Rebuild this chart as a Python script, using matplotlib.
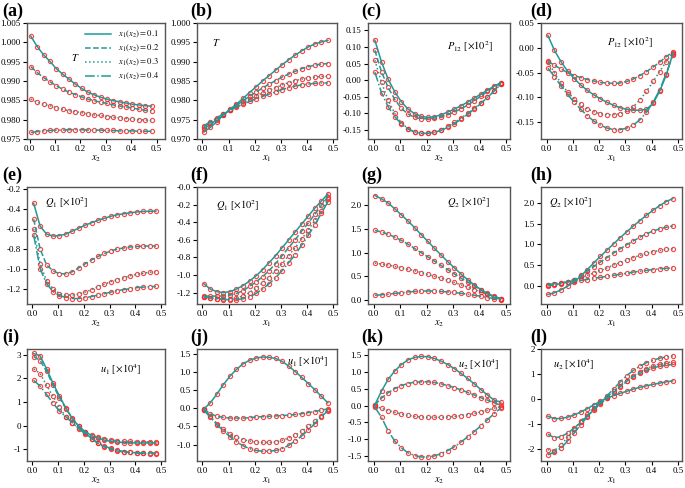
import numpy as np
import matplotlib
matplotlib.use("Agg")
import matplotlib.pyplot as plt

plt.rcParams['font.family'] = ['Liberation Serif', 'DejaVu Serif']
plt.rcParams['mathtext.fontset'] = 'stix'

# sampling points along x1 or x2
x_pts = [0.005, 0.03, 0.055, 0.08, 0.105, 0.13, 0.155, 0.18, 0.205, 0.23,
         0.255, 0.28, 0.305, 0.33, 0.355, 0.38, 0.405, 0.43, 0.455, 0.48]

legend_labels = [r"$x_1(x_2)=0.1$", r"$x_1(x_2)=0.2$", r"$x_1(x_2)=0.3$", r"$x_1(x_2)=0.4$"]

# (a) T vs x2
a_T = [
    [1.0016, 0.9989, 0.9968, 0.9951, 0.9932, 0.9918, 0.9905, 0.9892, 0.9881, 0.9871,
     0.9864, 0.9858, 0.9853, 0.9849, 0.9846, 0.9843, 0.9840, 0.9838, 0.9836, 0.9835],
    [0.9937, 0.9922, 0.9909, 0.9898, 0.9888, 0.9879, 0.9871, 0.9865, 0.9859, 0.9853,
     0.9849, 0.9845, 0.9842, 0.9838, 0.9835, 0.9833, 0.9830, 0.9827, 0.9824, 0.9823],
    [0.9853, 0.9845, 0.9840, 0.9836, 0.9831, 0.9827, 0.9823, 0.9821, 0.9818, 0.9815,
     0.9812, 0.9811, 0.9808, 0.9806, 0.9805, 0.9803, 0.9801, 0.9800, 0.9799, 0.9798],
    [0.9767, 0.9769, 0.9771, 0.9772, 0.9773, 0.9773, 0.9774, 0.9774, 0.9774, 0.9773,
     0.9773, 0.9773, 0.9772, 0.9772, 0.9771, 0.9771, 0.9771, 0.9770, 0.9770, 0.9770],
]
# (b) T vs x1
b_T = [
    [0.9718, 0.9730, 0.9745, 0.9762, 0.9777, 0.9790, 0.9805, 0.9820, 0.9835, 0.9850,
     0.9864, 0.9878, 0.9892, 0.9905, 0.9917, 0.9928, 0.9938, 0.9946, 0.9951, 0.9955],
    [0.9727, 0.9738, 0.9750, 0.9762, 0.9775, 0.9787, 0.9799, 0.9810, 0.9821, 0.9832,
     0.9842, 0.9851, 0.9860, 0.9868, 0.9875, 0.9882, 0.9887, 0.9891, 0.9894, 0.9895],
    [0.9731, 0.9742, 0.9753, 0.9764, 0.9775, 0.9785, 0.9794, 0.9803, 0.9811, 0.9819,
     0.9826, 0.9833, 0.9840, 0.9846, 0.9851, 0.9855, 0.9858, 0.9860, 0.9862, 0.9862],
    [0.9734, 0.9745, 0.9755, 0.9765, 0.9774, 0.9782, 0.9790, 0.9797, 0.9804, 0.9810,
     0.9816, 0.9822, 0.9828, 0.9833, 0.9837, 0.9840, 0.9842, 0.9844, 0.9845, 0.9845],
]
# (c) P12 vs x2
c_P12 = [
    [0.120, 0.055, 0.003, -0.035, -0.065, -0.087, -0.101, -0.109, -0.112, -0.110,
     -0.104, -0.096, -0.087, -0.077, -0.066, -0.054, -0.042, -0.030, -0.018, -0.008],
    [0.090, 0.025, -0.022, -0.058, -0.085, -0.102, -0.112, -0.116, -0.116, -0.114,
     -0.110, -0.104, -0.096, -0.086, -0.075, -0.062, -0.048, -0.034, -0.020, -0.008],
    [0.060, -0.007, -0.060, -0.100, -0.128, -0.146, -0.156, -0.160, -0.160, -0.156,
     -0.149, -0.139, -0.127, -0.114, -0.100, -0.085, -0.069, -0.052, -0.034, -0.012],
    [0.024, -0.038, -0.080, -0.110, -0.132, -0.147, -0.156, -0.160, -0.160, -0.157,
     -0.151, -0.142, -0.131, -0.118, -0.103, -0.087, -0.070, -0.052, -0.033, -0.011],
]
# (d) P12 vs x1
d_P12 = [
    [0.025, -0.005, -0.028, -0.047, -0.062, -0.075, -0.086, -0.095, -0.103, -0.110,
     -0.116, -0.121, -0.124, -0.126, -0.126, -0.124, -0.112, -0.088, -0.055, -0.012],
    [-0.027, -0.035, -0.043, -0.050, -0.056, -0.060, -0.064, -0.067, -0.070, -0.071,
     -0.072, -0.071, -0.068, -0.063, -0.056, -0.048, -0.039, -0.029, -0.018, -0.008],
    [-0.028, -0.050, -0.072, -0.089, -0.103, -0.114, -0.123, -0.129, -0.133, -0.135,
     -0.135, -0.133, -0.128, -0.119, -0.105, -0.088, -0.068, -0.048, -0.028, -0.010],
    [-0.041, -0.058, -0.077, -0.094, -0.110, -0.124, -0.137, -0.148, -0.156, -0.162,
     -0.165, -0.165, -0.162, -0.156, -0.145, -0.130, -0.110, -0.085, -0.052, -0.015],
]
# (e) Q1 vs x2
e_Q1 = [
    [-0.34, -0.57, -0.65, -0.67, -0.665, -0.65, -0.62, -0.59, -0.56, -0.535,
     -0.51, -0.49, -0.47, -0.455, -0.445, -0.435, -0.427, -0.422, -0.42, -0.418],
    [-0.50, -0.80, -0.96, -1.02, -1.05, -1.05, -1.03, -0.99, -0.95, -0.91,
     -0.875, -0.845, -0.82, -0.80, -0.79, -0.78, -0.775, -0.772, -0.77, -0.77],
    [-0.60, -0.95, -1.12, -1.20, -1.25, -1.265, -1.265, -1.255, -1.235, -1.21,
     -1.18, -1.155, -1.13, -1.11, -1.09, -1.07, -1.055, -1.045, -1.035, -1.03],
    [-0.66, -1.00, -1.15, -1.23, -1.27, -1.29, -1.30, -1.30, -1.29, -1.28,
     -1.265, -1.25, -1.235, -1.22, -1.21, -1.20, -1.19, -1.185, -1.18, -1.178],
]
# (f) Q1 vs x1
f_Q1 = [
    [-1.10, -1.16, -1.19, -1.20, -1.19, -1.16, -1.12, -1.07, -1.01, -0.94,
     -0.86, -0.78, -0.69, -0.60, -0.51, -0.42, -0.33, -0.24, -0.16, -0.08],
    [-1.24, -1.24, -1.24, -1.24, -1.23, -1.21, -1.18, -1.13, -1.08, -1.02,
     -0.95, -0.87, -0.78, -0.69, -0.60, -0.50, -0.41, -0.31, -0.21, -0.11],
    [-1.25, -1.26, -1.27, -1.27, -1.27, -1.26, -1.24, -1.20, -1.15, -1.09,
     -1.03, -0.95, -0.87, -0.78, -0.69, -0.59, -0.49, -0.38, -0.27, -0.14],
    [-1.25, -1.26, -1.27, -1.28, -1.28, -1.28, -1.27, -1.25, -1.21, -1.16,
     -1.10, -1.03, -0.95, -0.86, -0.77, -0.66, -0.55, -0.43, -0.30, -0.17],
]
# (g) Q2 vs x2
g_Q2 = [
    [2.21, 2.14, 2.05, 1.93, 1.80, 1.67, 1.53, 1.38, 1.24, 1.09,
     0.95, 0.81, 0.68, 0.55, 0.43, 0.32, 0.22, 0.13, 0.06, 0.02],
    [1.47, 1.44, 1.39, 1.33, 1.26, 1.18, 1.09, 1.00, 0.91, 0.82,
     0.73, 0.64, 0.55, 0.46, 0.38, 0.30, 0.22, 0.14, 0.08, 0.03],
    [0.78, 0.76, 0.74, 0.71, 0.68, 0.65, 0.62, 0.58, 0.54, 0.50,
     0.46, 0.42, 0.37, 0.32, 0.27, 0.22, 0.17, 0.12, 0.07, 0.03],
    [0.10, 0.11, 0.12, 0.14, 0.15, 0.17, 0.18, 0.19, 0.19, 0.19,
     0.18, 0.17, 0.16, 0.14, 0.12, 0.10, 0.08, 0.05, 0.03, 0.01],
]
# (h) Q2 vs x1
h_Q2 = [
    [-0.21, -0.17, -0.10, -0.01, 0.09, 0.23, 0.39, 0.55, 0.71, 0.86,
     1.01, 1.16, 1.30, 1.44, 1.57, 1.70, 1.82, 1.93, 2.03, 2.10],
    [0.00, 0.02, 0.05, 0.09, 0.15, 0.25, 0.35, 0.46, 0.57, 0.68,
     0.79, 0.89, 0.99, 1.08, 1.17, 1.25, 1.32, 1.37, 1.41, 1.44],
    [0.02, 0.04, 0.07, 0.10, 0.14, 0.19, 0.25, 0.31, 0.37, 0.43,
     0.50, 0.56, 0.62, 0.68, 0.73, 0.78, 0.82, 0.85, 0.88, 0.89],
    [0.03, 0.05, 0.07, 0.09, 0.11, 0.13, 0.15, 0.18, 0.20, 0.23,
     0.25, 0.28, 0.30, 0.33, 0.35, 0.37, 0.39, 0.41, 0.42, 0.43],
]
# (i) u1 vs x2
i_u1 = [
    [3.05, 2.95, 2.40, 1.80, 1.25, 0.75, 0.30, -0.02, -0.25, -0.42,
     -0.53, -0.61, -0.66, -0.69, -0.71, -0.72, -0.73, -0.73, -0.73, -0.73],
    [2.92, 2.75, 2.30, 1.72, 1.18, 0.72, 0.32, 0.00, -0.30, -0.55,
     -0.75, -0.90, -1.00, -1.07, -1.11, -1.13, -1.14, -1.15, -1.15, -1.15],
    [2.40, 2.20, 1.70, 1.25, 0.78, 0.38, 0.10, -0.10, -0.28, -0.40,
     -0.48, -0.55, -0.60, -0.63, -0.65, -0.66, -0.67, -0.68, -0.68, -0.68],
    [1.92, 1.67, 1.32, 0.95, 0.62, 0.38, 0.12, -0.12, -0.35, -0.55,
     -0.72, -0.86, -0.96, -1.04, -1.09, -1.13, -1.16, -1.17, -1.18, -1.18],
]
# (j) u1 vs x1
j_u1 = [
    [-0.02, 0.15, 0.39, 0.65, 0.88, 1.07, 1.22, 1.32, 1.38, 1.41,
     1.40, 1.37, 1.29, 1.16, 1.01, 0.85, 0.68, 0.51, 0.33, 0.15],
    [-0.03, -0.15, -0.22, -0.25, -0.27, -0.27, -0.27, -0.26, -0.24, -0.23,
     -0.22, -0.21, -0.20, -0.19, -0.17, -0.15, -0.12, -0.09, -0.05, -0.02],
    [-0.04, -0.22, -0.42, -0.58, -0.70, -0.79, -0.86, -0.90, -0.93, -0.94,
     -0.94, -0.93, -0.88, -0.82, -0.74, -0.63, -0.50, -0.36, -0.20, -0.05],
    [-0.05, -0.25, -0.45, -0.62, -0.78, -0.92, -1.03, -1.11, -1.16, -1.18,
     -1.18, -1.16, -1.11, -1.02, -0.90, -0.76, -0.60, -0.42, -0.23, -0.07],
]
# (k) u2 vs x2
k_u2 = [
    [0.02, 0.43, 0.77, 1.02, 1.21, 1.35, 1.42, 1.45, 1.44, 1.39,
     1.31, 1.21, 1.09, 0.95, 0.80, 0.64, 0.47, 0.31, 0.16, 0.10],
    [0.02, 0.22, 0.38, 0.50, 0.59, 0.65, 0.69, 0.70, 0.70, 0.68,
     0.64, 0.59, 0.53, 0.46, 0.39, 0.31, 0.23, 0.16, 0.08, 0.01],
    [-0.02, -0.08, -0.15, -0.20, -0.25, -0.29, -0.32, -0.34, -0.35, -0.35,
     -0.35, -0.34, -0.32, -0.30, -0.27, -0.23, -0.19, -0.14, -0.08, -0.03],
    [-0.05, -0.35, -0.75, -1.05, -1.25, -1.40, -1.48, -1.52, -1.52, -1.49,
     -1.42, -1.33, -1.22, -1.08, -0.93, -0.77, -0.60, -0.42, -0.24, -0.08],
]
# (l) u2 vs x1
l_u2 = [
    [-0.70, -0.80, -0.79, -0.74, -0.65, -0.53, -0.40, -0.24, -0.10, 0.02,
     0.13, 0.22, 0.30, 0.39, 0.46, 0.52, 0.58, 0.63, 0.68, 0.72],
    [-1.42, -1.57, -1.52, -1.38, -1.18, -0.95, -0.70, -0.45, -0.20, 0.02,
     0.25, 0.48, 0.70, 0.88, 1.02, 1.14, 1.24, 1.31, 1.35, 1.38],
    [-2.05, -2.08, -1.85, -1.55, -1.22, -0.90, -0.62, -0.36, -0.13, 0.08,
     0.30, 0.52, 0.73, 0.92, 1.08, 1.21, 1.32, 1.40, 1.45, 1.48],
    [-2.25, -2.15, -1.98, -1.70, -1.38, -1.04, -0.72, -0.42, -0.15, 0.12,
     0.40, 0.68, 0.93, 1.14, 1.31, 1.45, 1.55, 1.63, 1.68, 1.72],
]

# per-panel settings: letter, data, xlabel, annotation, annotation pos, ylim, yticks, fmt
panels = [
    ("a", a_T, "$x_2$", "$T$", (0.35, 0.70), (0.975, 1.005), np.arange(0.975, 1.0051, 0.005), "%.3f"),
    ("b", b_T, "$x_1$", "$T$", (0.14, 0.83), (0.970, 1.000), np.arange(0.970, 1.0001, 0.005), "%.3f"),
    ("c", c_P12, "$x_2$", r"$P_{12}$ [$\times 10^2$]", (0.72, 0.80), (-0.177, 0.172), np.arange(-0.15, 0.151, 0.05), "%.2f"),
    ("d", d_P12, "$x_1$", r"$P_{12}$ [$\times 10^2$]", (0.63, 0.83), (-0.184, 0.05), np.arange(-0.15, 0.051, 0.05), "%.2f"),
    ("e", e_Q1, "$x_2$", r"$Q_1$ [$\times 10^2$]", (0.29, 0.87), (-1.355, -0.175), np.arange(-1.2, -0.19, 0.2), "%.1f"),
    ("f", f_Q1, "$x_1$", r"$Q_1$ [$\times 10^2$]", (0.29, 0.84), (-1.33, 0.0), np.arange(-1.2, 0.01, 0.2), "%.1f"),
    ("g", g_Q2, "$x_2$", r"$Q_2$ [$\times 10^2$]", (0.71, 0.87), (-0.085, 2.39), np.arange(0.0, 2.01, 0.5), "%.1f"),
    ("h", h_Q2, "$x_1$", r"$Q_2$ [$\times 10^2$]", (0.21, 0.87), (-0.44, 2.38), np.arange(0.0, 2.01, 0.5), "%.1f"),
    ("i", i_u1, "$x_2$", r"$u_1$ [$\times 10^4$]", (0.68, 0.82), (-1.49, 3.24), np.arange(-1, 3.1, 1), "%d"),
    ("j", j_u1, "$x_1$", r"$u_1$ [$\times 10^4$]", (0.79, 0.89), (-1.45, 1.63), np.arange(-1.0, 1.51, 0.5), "%.1f"),
    ("k", k_u2, "$x_2$", r"$u_2$ [$\times 10^4$]", (0.78, 0.86), (-1.64, 1.67), np.arange(-1.5, 1.51, 0.5), "%.1f"),
    ("l", l_u2, "$x_1$", r"$u_2$ [$\times 10^4$]", (0.23, 0.86), (-2.5, 2.0), np.arange(-2, 2.1, 1), "%d"),
]

W, H = 685, 488
cols = [(27, 165), (197, 337), (368, 510), (541, 682)]
rows = [(23, 139), (187, 304), (349, 461)]
label_x = [2, 190, 361, 530]

teal = "#1f9a97"
red = "#ff2424"
styles = ["-", "--", ":", "-."]

fig = plt.figure(figsize=(W / 100, H / 100), dpi=100)

for n, (letter, data, xlab, note, note_pos, ylim, yticks, fmt) in enumerate(panels):
    r, c = divmod(n, 4)
    l, rr = cols[c]
    t, b = rows[r]
    ax = fig.add_axes([l / W, 1 - b / H, (rr - l) / W, (b - t) / H])

    for k, ys in enumerate(data):
        ax.plot(x_pts, ys, linestyle="none", marker="o", ms=3.0, mfc="none",
                mec=red, mew=0.85, alpha=0.85, zorder=2)
        ax.plot(x_pts, ys, linestyle=styles[k], color=teal, lw=1.1,
                label=legend_labels[k], zorder=3)

    ax.set_ylim(*ylim)
    if letter == "a":
        ax.set_xlim(-0.01, 0.533)
        ax.legend(loc="upper right", frameon=False, fontsize=6.2,
                  handlelength=3.0, labelspacing=0.35, borderaxespad=0.3)
    else:
        ax.set_xlim(-0.021, 0.515)
    ax.set_xticks([0.0, 0.1, 0.2, 0.3, 0.4, 0.5])
    ax.set_xticklabels(["0.0", "0.1", "0.2", "0.3", "0.4", "0.5"])
    ax.set_yticks(yticks)
    ax.set_yticklabels([fmt % v if fmt != "%d" else "%d" % round(v) for v in yticks])
    ax.tick_params(labelsize=6.5, length=3, width=0.8, pad=1.5)
    for s in ax.spines.values():
        s.set_color("#555555")
        s.set_linewidth(1.0)
    ax.set_xlabel(xlab, fontsize=7.5, labelpad=0)
    ax.text(note_pos[0], note_pos[1], note, transform=ax.transAxes,
            ha="center", va="center", fontsize=7.5)

    fig.text(label_x[c] / W, 1 - (t - 3) / H, "(%s)" % letter,
             fontsize=13, fontweight="bold", ha="left", va="bottom")

fig.savefig("out.png", dpi=100)
